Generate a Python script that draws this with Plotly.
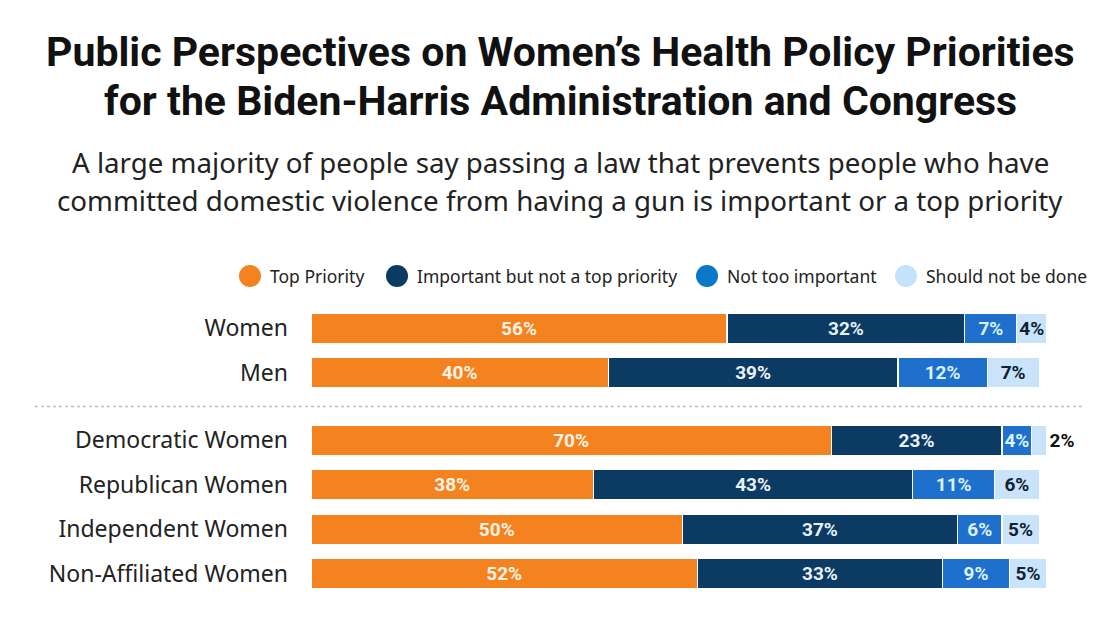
import plotly.graph_objects as go

categories = ["Women", "Men", "Democratic Women", "Republican Women", "Independent Women", "Non-Affiliated Women"]
y_pos = [0, 1, 2.52, 3.52, 4.52, 5.52]

series_names = ["Top Priority", "Important but not a top priority", "Not too important", "Should not be done"]
top_priority = [56, 40, 70, 38, 50, 52]
important = [32, 39, 23, 43, 37, 33]
not_too = [7, 12, 4, 11, 6, 9]
should_not = [4, 7, 2, 6, 5, 5]

bar_colors = ["#F4821F", "#0B3A62", "#1F6FCC", "#C9E4FA"]
legend_colors = ["#F4821F", "#0B3A62", "#0B77C9", "#C4E3FA"]
text_colors = ["#FFF3E6", "#E8F1FA", "#D8F2FF", "#0E2233"]

W, H = 1120, 628
L, R, T, B = 311, 66, 295, 33
PW, PH = W - L - R, H - T - B

def px_x(px):
    return (px - L) / PW

def px_y(py):
    return (H - B - py) / PH

fig = go.Figure()
all_series = [top_priority, important, not_too, should_not]
for i, (name, vals) in enumerate(zip(series_names, all_series)):
    positions = []
    for j, v in enumerate(vals):
        if i == 3 and categories[j] == "Democratic Women":
            positions.append("outside")
        else:
            positions.append("inside")
    fig.add_trace(go.Bar(
        x=vals, y=y_pos, orientation="h", name=name,
        marker=dict(color=bar_colors[i], line=dict(width=1.2, color="white")),
        text=[f"{v}%" for v in vals], textposition=positions, textangle=0,
        insidetextanchor="middle", constraintext="none", cliponaxis=False,
        textfont=dict(family="Roboto", size=19, color=text_colors[i], weight=700),
        outsidetextfont=dict(family="Roboto", size=19, color="#111111", weight=700),
        showlegend=False, width=0.68, hoverinfo="skip",
    ))

# separator
fig.add_shape(type="line", xref="paper", yref="y", x0=px_x(35), x1=px_x(1085), y0=1.76, y1=1.76,
              line=dict(color="#C0C0C0", width=1.5, dash="dot"))

annotations = []
# title & subtitle
title_lines = ["Public Perspectives on Women’s Health Policy Priorities",
               "for the Biden-Harris Administration and Congress"]
for line, cy in zip(title_lines, [52, 101]):
    annotations.append(dict(text=f"<b>{line}</b>", xref="paper", yref="paper",
                            x=px_x(560), y=px_y(cy), xanchor="center", yanchor="middle",
                            showarrow=False, font=dict(family="Roboto", size=41, color="#111111")))
sub_lines = ["A large majority of people say passing a law that prevents people who have",
             "committed domestic violence from having a gun is important or a top priority"]
for line, cy in zip(sub_lines, [162, 200]):
    annotations.append(dict(text=line, xref="paper", yref="paper",
                            x=px_x(560), y=px_y(cy), xanchor="center", yanchor="middle",
                            showarrow=False, font=dict(family="Noto Sans", size=27.7, color="#222222")))

# legend (manual, circle markers)
legend_circle_x = [250, 397, 707, 906]
legend_y = 276
rad = 11
for name, col, cx in zip(series_names, legend_colors, legend_circle_x):
    fig.add_shape(type="circle", xref="paper", yref="paper",
                  x0=px_x(cx - rad), x1=px_x(cx + rad), y0=px_y(legend_y + rad), y1=px_y(legend_y - rad),
                  fillcolor=col, line=dict(width=0))
    annotations.append(dict(text=name, xref="paper", yref="paper",
                            x=px_x(cx + 18), y=px_y(legend_y), xanchor="left", yanchor="middle",
                            showarrow=False, font=dict(family="Noto Sans", size=17.5, color="#222222")))

fig.update_layout(
    width=W, height=H,
    margin=dict(l=L, r=R, t=T, b=B),
    paper_bgcolor="white", plot_bgcolor="white",
    barmode="stack", bargap=0.3, showlegend=False,
    annotations=annotations,
    xaxis=dict(range=[0, 100], visible=False, fixedrange=True, automargin=False),
    yaxis=dict(
        range=[6.0, -0.75], tickvals=y_pos, ticktext=categories, automargin=False,
        showgrid=False, zeroline=False, showline=False, ticks="",
        ticklabelstandoff=22,
        tickfont=dict(family="Noto Sans", size=23, color="#222222"),
    ),
)

fig.write_html("out.html", config={"displayModeBar": False},
               post_script="document.body.style.margin='0';document.body.style.overflow='hidden';")
